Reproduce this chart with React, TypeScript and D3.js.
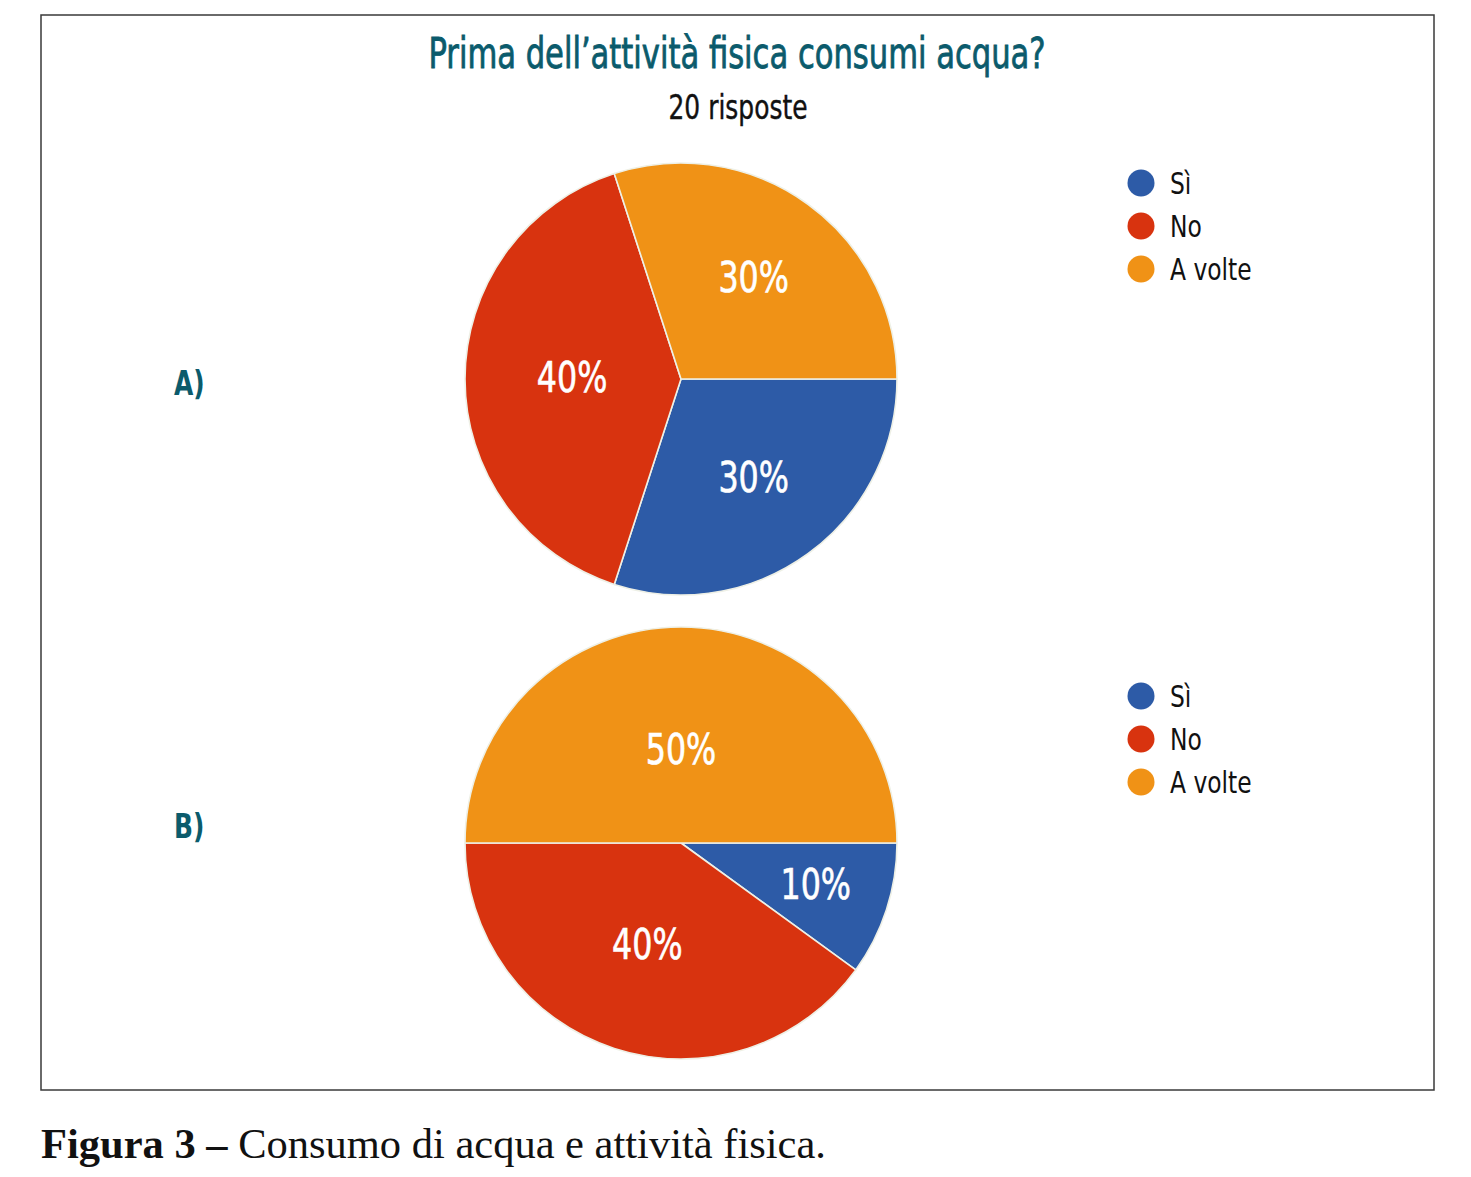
import React from "react";
import * as d3 from "d3";

const categories = ["Sì", "No", "A volte"];
const colors = ["#2d5ba7", "#d8330f", "#f09216"];
const seriesA = [30, 40, 30];
const seriesB = [10, 40, 50];
const panelLabels = ["A)", "B)"];
const titleText = "Prima dell\u2019attività fisica consumi acqua?";
const subtitleText = "20 risposte";
const captionBold = "Figura 3 \u2013";
const captionRest = " Consumo di acqua e attività fisica.";

const W = 1471;
const H = 1177;
const NARROW = "'DejaVu Sans Condensed', 'DejaVu Sans', sans-serif";
const SQ = 0.84;
const TEAL = "#0b5b6c";

function CText({ x, y, children, anchor = "start", sq = SQ, ...rest }: any) {
  return (
    <text transform={`translate(${x},${y}) scale(${sq},1)`} textAnchor={anchor} fontFamily={NARROW} {...rest}>
      {children}
    </text>
  );
}

function Pie({ values, cx, cy, r, label, labelX, labelY, legendX, legendY }: any) {
  const pie = d3.pie<number>().sort(null).startAngle(Math.PI / 2).endAngle(Math.PI / 2 + 2 * Math.PI);
  const arcs = pie(values);
  const arc = d3.arc<d3.PieArcDatum<number>>().innerRadius(0).outerRadius(r);
  const total = d3.sum(values);
  const legendScale = d3.scalePoint<string>().domain(categories).range([0, 86]);
  return (
    <g>
      <g transform={`translate(${cx},${cy})`}>
        {arcs.map((a, i) => (
          <path key={i} d={arc(a) || ""} fill={colors[i]} stroke="#eef0e6" strokeWidth={1.6} strokeLinejoin="round" />
        ))}
        {arcs.map((a, i) => {
          const half = (a.endAngle - a.startAngle) / 2;
          const mid = (a.startAngle + a.endAngle) / 2;
          const rl = (2 * r * Math.sin(half)) / (3 * half);
          const x = rl * Math.sin(mid);
          const y = -rl * Math.cos(mid);
          return (
            <CText key={i} x={x} y={y} dy="0.3em" anchor="middle" fill="#fff" stroke="#fff" strokeWidth={0.6} fontSize={42}>
              {`${Math.round((a.value / total) * 100)}%`}
            </CText>
          );
        })}
      </g>
      <CText x={labelX} y={labelY} dy="0.36em" fill={TEAL} fontWeight="bold" fontSize={33}>
        {label}
      </CText>
      <g transform={`translate(${legendX},${legendY})`}>
        {categories.map((c, i) => (
          <g key={c} transform={`translate(0,${legendScale(c)})`}>
            <circle cx={0} cy={0} r={13.5} fill={colors[i]} />
            <CText x={29} y={0} dy="0.36em" fill="#111" fontSize={31}>
              {c}
            </CText>
          </g>
        ))}
      </g>
    </g>
  );
}

export default function App() {
  return (
    <svg width={W} height={H} style={{ position: "absolute", left: 0, top: 0, background: "#fff" }}>
      <rect x={0} y={0} width={W} height={H} fill="#fff" />
      <rect x={41} y={15} width={1393} height={1075} fill="#fff" stroke="#3a3a3a" strokeWidth={1.5} />
      <CText x={737} y={68} anchor="middle" sq={0.81} fill={TEAL} stroke={TEAL} strokeWidth={0.8} fontSize={42}>
        {titleText}
      </CText>
      <CText x={738} y={119} anchor="middle" fill="#111" stroke="#111" strokeWidth={0.4} fontSize={33}>
        {subtitleText}
      </CText>
      <Pie values={seriesA} cx={681} cy={379} r={216} label={panelLabels[0]} labelX={174} labelY={383} legendX={1141} legendY={183} />
      <Pie values={seriesB} cx={681} cy={843} r={216} label={panelLabels[1]} labelX={174} labelY={826} legendX={1141} legendY={696} />
      <text x={41} y={1158} fill="#111" fontFamily="'Liberation Serif', 'DejaVu Serif', serif" fontSize={42.5}>
        <tspan fontWeight="bold">{captionBold}</tspan>
        <tspan>{captionRest}</tspan>
      </text>
    </svg>
  );
}
